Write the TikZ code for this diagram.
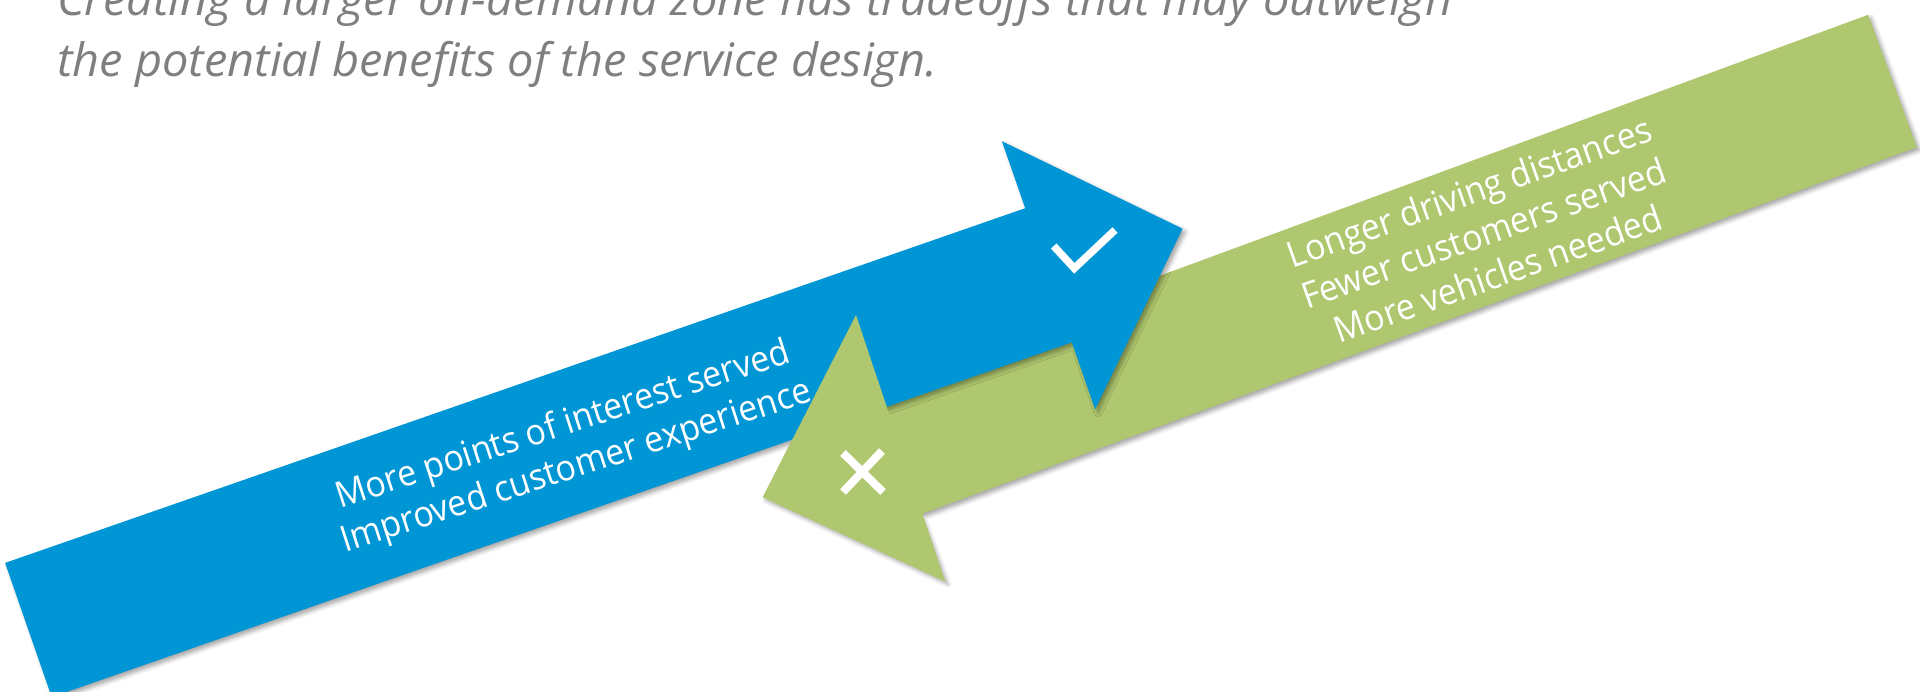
\documentclass[tikz,border=0pt]{standalone}
\usepackage{fontspec}
\setmainfont{Open Sans}
\newfontfamily\titlefont[FakeStretch=1.02]{Open Sans}
\newfontfamily\labelfont[FakeStretch=0.94]{Open Sans}
\usetikzlibrary{positioning, calc, shadows.blur}
\definecolor{benefitblue}{HTML}{0096D6}
\definecolor{costgreen}{HTML}{AFC76E}
\definecolor{titlegray}{HTML}{7F7F7F}
\tikzstyle{Shadowed} = [
blur shadow={shadow xshift=3pt, shadow yshift=-3pt,
shadow blur radius=4pt, shadow opacity=35}]
\tikzstyle{BlueArrow} = [fill=benefitblue, Shadowed]
\tikzstyle{GreenArrow} = [fill=costgreen, Shadowed]
\tikzstyle{ArrowText} = [
white, align=center, inner sep=0pt,
font=\labelfont\fontsize{36}{43.5}\selectfont]
\tikzstyle{Mark} = [white, line width=7.5pt]

\begin{document}
\begin{tikzpicture}[x=1pt, y=-1pt]
    \useasboundingbox (0,0) rectangle (1920,691);

    % title (base = baseline of its last line)
    \node [anchor=base west, align=left, inner sep=0pt, text=titlegray,
        font=\titlefont\itshape\fontsize{46}{60.6}\selectfont] (title) at (57,76)
        {Creating a larger on-demand zone has tradeoffs that may outweigh\\
         the potential benefits of the service design.};

    % green arrow (drawn first, goes under the blue one)
    \coordinate (g1) at (1868.1,14.8);
    \coordinate (g2) at (871.6,382.0);
    \coordinate (g3) at (856,315);
    \coordinate (g4) at (762.8,497.3);
    \coordinate (g5) at (945.1,581.4);
    \coordinate (g6) at (920.4,514.4);
    \coordinate (g7) at (1916.9,147.2);
    \fill[GreenArrow] (g1) -- (g2) -- (g3) -- (g4) -- (g5) -- (g6) -- (g7) -- cycle;

    % blue arrow
    \coordinate (b1) at (5.1,562.9);
    \coordinate (b2) at (1025.2,208.2);
    \coordinate (b3) at (1001.9,141.2);
    \coordinate (b4) at (1182.6,228.7);
    \coordinate (b5) at (1095.1,409.4);
    \coordinate (b6) at (1071.8,342.4);
    \coordinate (b7) at (51.7,697.1);
    \fill[BlueArrow] (b1) -- (b2) -- (b3) -- (b4) -- (b5) -- (b6) -- (b7) -- cycle;

    % green head lies on top of the blue shaft
    \fill[costgreen] (g3) -- (g4) -- (g5) -- cycle;

    % labels
    \node [ArrowText, rotate=18] (pros) at (570,447)
        {More points of interest served\\Improved customer experience};
    \node [ArrowText, rotate=19.5] (cons) at (1483.5,232.5)
        {Longer driving distances\\Fewer customers served\\More vehicles needed};

    % tick and cross
    \draw[Mark] (1053.7,246) -- (1074.3,268.3) -- (1115,230);
    \draw[Mark, line width=8pt] (843,453) -- (883,492);
    \draw[Mark, line width=8pt] (882,451) -- (843,492);
\end{tikzpicture}
\end{document}
